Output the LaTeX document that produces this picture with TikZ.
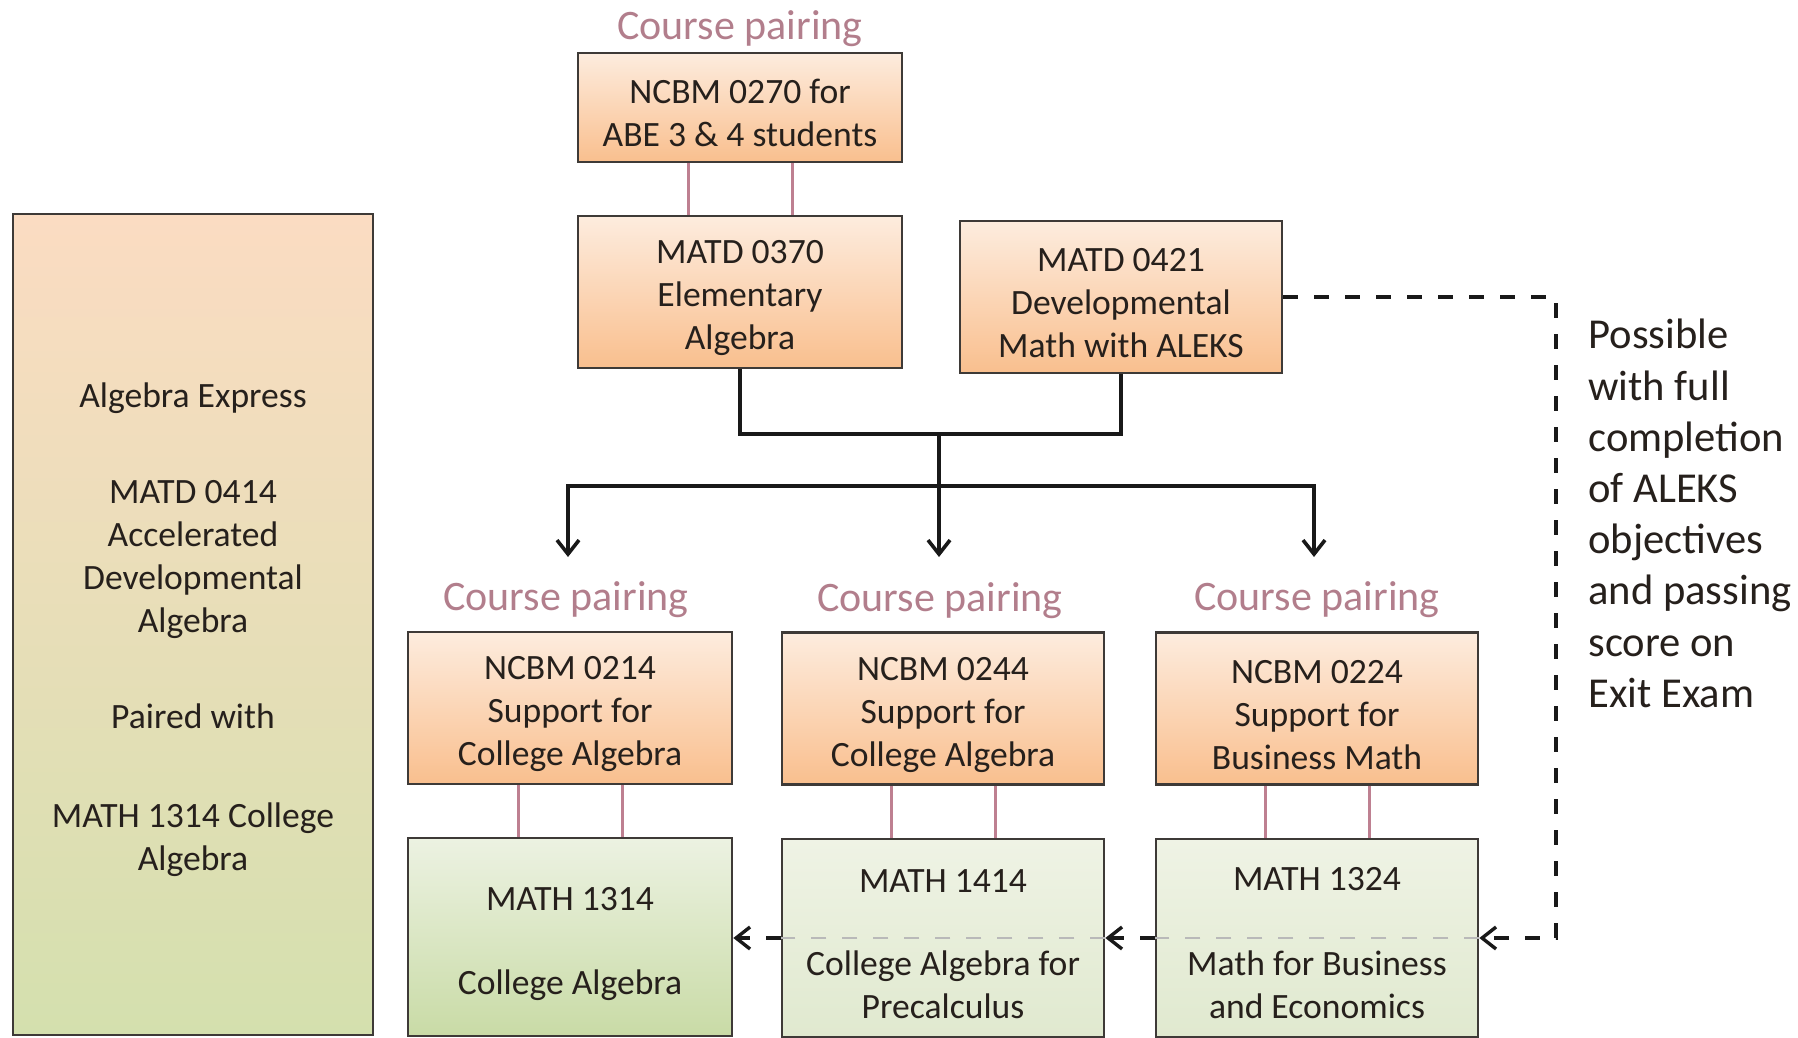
\documentclass[tikz,border=0pt]{standalone}
\usepackage{fontspec}
\setmainfont{Carlito}
\usetikzlibrary{arrows.meta}
\definecolor{boxline}{RGB}{62,58,55}
\definecolor{txt}{RGB}{38,32,28}
\definecolor{orTop}{RGB}{253,236,222}
\definecolor{orBot}{RGB}{249,191,142}
\definecolor{lfTop}{RGB}{251,220,194}
\definecolor{lfBot}{RGB}{212,224,174}
\definecolor{gaTop}{RGB}{236,242,226}
\definecolor{gaBot}{RGB}{201,219,166}
\definecolor{gbTop}{RGB}{239,243,229}
\definecolor{gbBot}{RGB}{224,233,207}
\definecolor{pairc}{RGB}{190,128,145}
\definecolor{cptext}{RGB}{178,126,140}
\definecolor{greyd}{RGB}{185,185,185}
\newcommand\boxfont{\fontsize{17.8pt}{21.5pt}\selectfont}
\newcommand\cpfont{\fontsize{21pt}{25.5pt}\selectfont}
\newcommand\sidefont{\fontsize{21.3pt}{25.6pt}\selectfont}
\newcommand\topstrut{\rule{0pt}{18pt}}
\begin{document}
\begin{tikzpicture}[x=0.5pt,y=-0.5pt,
  >={Straight Barb[length=7pt,width=11pt]},
  basebox/.style={draw=boxline, line width=1.3pt, inner sep=0pt, align=center,
    font=\boxfont, text=txt, minimum width=161pt, minimum height=76pt},
  orangebox/.style={basebox, top color=orTop, bottom color=orBot},
  greenA/.style={basebox, top color=gaTop, bottom color=gaBot, minimum height=99pt},
  greenB/.style={basebox, top color=gbTop, bottom color=gbBot, minimum height=99pt},
  leftbox/.style={basebox, top color=lfTop, bottom color=lfBot, minimum width=180pt, minimum height=410.5pt},
  intext/.style={inner sep=0pt, align=center, font=\boxfont, text=txt},
  cplabel/.style={inner sep=0pt, font=\cpfont, text=cptext},
  sidetext/.style={inner sep=0pt, align=left, font=\sidefont, text=txt},
  pairline/.style={draw=pairc, line width=1.5pt},
  flow/.style={draw=black!90, line width=1.8pt},
  dashline/.style={draw=black!90, line width=1.7pt, dash pattern=on 7.5pt off 8pt},
  greydash/.style={draw=greyd, line width=1.4pt, dash pattern=on 7.5pt off 8pt}]
\useasboundingbox (0,0) rectangle (1798,1038);

% left box
\node[leftbox] (alg) at (193,624.5) {\topstrut Algebra Express\\[26.5pt]MATD 0414\\Accelerated\\Developmental\\Algebra\\[26.5pt]Paired with\\[28pt]MATH 1314 College\\Algebra};

% top boxes
\node[cplabel] (cp0) at (740,29) {Course pairing};
\node[orangebox, minimum width=162pt, minimum height=54.5pt] (n0270) at (740,107.5) {\topstrut NCBM 0270 for\\ABE 3 \& 4 students};
\node[orangebox, minimum width=162pt] (m0370) at (740,292) {\topstrut MATD 0370\\Elementary\\Algebra};
\node[orangebox] (m0421) at (1121,297) {\topstrut MATD 0421\\Developmental\\Math with ALEKS};

% support boxes
\node[cplabel] (cp1) at (566,600) {Course pairing};
\node[cplabel] (cp2) at (940,601) {Course pairing};
\node[cplabel] (cp3) at (1317,600) {Course pairing};
\node[orangebox, minimum width=162pt] (n0214) at (570,708) {\topstrut NCBM 0214\\Support for\\College Algebra};
\node[orangebox] (n0244) at (943,708.5) {\topstrut NCBM 0244\\Support for\\College Algebra};
\node[orangebox] (n0224) at (1317,708.5) {\topstrut NCBM 0224\\Support for\\Business Math};

% credit boxes
\node[greenA, minimum width=162pt] (m1314) at (570,937) {};
\node[greenB] (m1414) at (943,938) {};
\node[greenB] (m1324) at (1317,938) {};
\node[intext] (t1314a) at (570,899) {MATH 1314};
\node[intext] (t1314b) at (570,985) {College Algebra};
\node[intext] (t1414a) at (943,881) {MATH 1414};
\node[intext] (t1414b) at (943,985) {College Algebra for\\Precalculus};
\node[intext] (t1324a) at (1317,879) {MATH 1324};
\node[intext] (t1324b) at (1317,985) {Math for Business\\and Economics};

% side note
\node[sidetext, anchor=north west] (note) at (1588,319) {Possible\\with full\\completion\\of ALEKS\\objectives\\and passing\\score on\\Exit Exam};

% pairing lines
\foreach \a/\b in {n0270/m0370, n0214/m1314, n0244/m1414, n0224/m1324}{
  \draw[pairline] ([xshift=-26pt]\a.south) -- ([xshift=-26pt]\b.north);
  \draw[pairline] ([xshift=26pt]\a.south) -- ([xshift=26pt]\b.north);
}

% flow connectors
\coordinate (j1) at (939,434);
\coordinate (bar) at (939,486);
\coordinate (tipL) at (568,557);
\coordinate (tipM) at (939,557);
\coordinate (tipR) at (1314,557);
\draw[flow] (m0370.south) -- (m0370.south |- j1) -- (m0421.south |- j1) -- (m0421.south);
\draw[flow, ->] (j1) -- (tipM);
\draw[flow, <->] (tipL) -- (tipL |- bar) -- (tipR |- bar) -- (tipR);

% dashed path
\coordinate (dc1) at (1556,297);
\coordinate (dc2) at (1556,938);
\draw[dashline, ->] (m0421.east) -- (dc1) -- (dc2) -- (m1324.east |- dc2);
\draw[greydash] (m1324.east |- dc2) -- (m1324.west |- dc2);
\draw[dashline, ->] (m1324.west |- dc2) -- (m1414.east |- dc2);
\draw[greydash] (m1414.east |- dc2) -- (m1414.west |- dc2);
\draw[dashline, ->] (m1414.west |- dc2) -- (m1314.east |- dc2);
\end{tikzpicture}
\end{document}
